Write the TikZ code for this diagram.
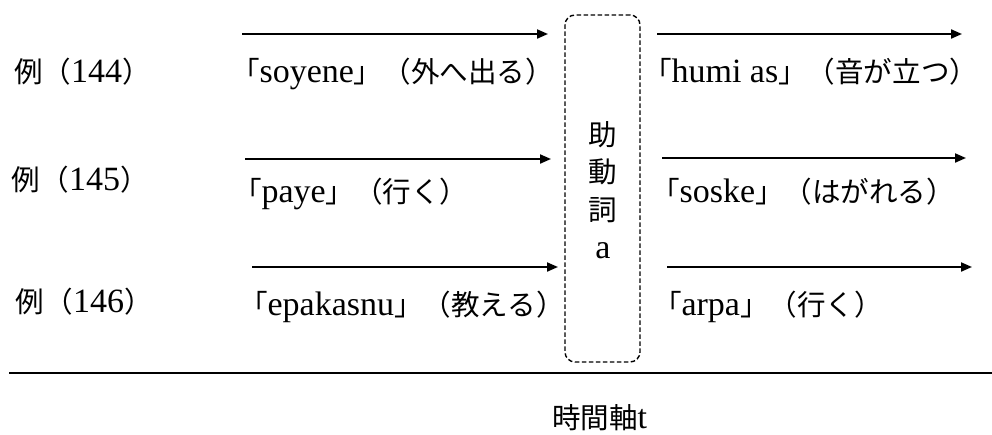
\documentclass[tikz,border=0pt]{standalone}
\usepackage{fontspec}
\setmainfont{Liberation Serif}
\newfontfamily\cjk{Noto Sans CJK JP}[Scale=0.84]
\usetikzlibrary{arrows.meta}
\newcommand\jp[1]{{\cjk #1}}
\tikzset{
  lbl/.style={anchor=base west, inner sep=0pt, outer sep=0pt, font=\fontsize{34}{40}\selectfont},
  vtxt/.style={anchor=base, inner sep=0pt, outer sep=0pt, font=\fontsize{34}{40}\selectfont},
  arr/.style={line width=2pt, -{Triangle[length=11pt,width=9pt]}},
  dashbox/.style={draw, line width=1.4pt, dash pattern=on 4.5pt off 2.5pt, rounded corners=10pt,
    minimum width=75pt, minimum height=347pt, inner sep=0pt},
  axis/.style={line width=2.4pt}
}
\begin{document}
\begin{tikzpicture}[x=1pt,y=-1pt]
\useasboundingbox (0,0) rectangle (992,434);
% dashed box
\node[dashbox] (aux) at (602.5,188.5) {};
\node[vtxt] (v1) at (603,145) {\jp{助}};
\node[vtxt] (v2) at (603,182) {\jp{動}};
\node[vtxt] (v3) at (603,220) {\jp{詞}};
\node[vtxt] (v4) at (603,258) {a};
% row labels
\node[lbl] (ex144) at (14,82) {\jp{例（}144\jp{）}};
\node[lbl] (ex145) at (12,190) {\jp{例（}145\jp{）}};
\node[lbl] (ex146) at (16,312) {\jp{例（}146\jp{）}};
% left labels
\node[lbl] (l144) at (231,82) {\jp{「}soyene\jp{」（外へ出る）}};
\node[lbl] (l145) at (233,202) {\jp{「}paye\jp{」（行く）}};
\node[lbl] (l146) at (239,315) {\jp{「}epakasnu\jp{」（教える）}};
% right labels
\node[lbl] (r144) at (643,82) {\jp{「}humi as\jp{」（音が立つ）}};
\node[lbl] (r145) at (651,202) {\jp{「}soske\jp{」（はがれる）}};
\node[lbl] (r146) at (653,315) {\jp{「}arpa\jp{」（行く）}};
% arrows
\coordinate (a1s) at (242,34); \coordinate (a1e) at (548,34);
\coordinate (b1s) at (657,34); \coordinate (b1e) at (962,34);
\coordinate (a2s) at (245,159); \coordinate (a2e) at (551,159);
\coordinate (b2s) at (662,158); \coordinate (b2e) at (966,158);
\coordinate (a3s) at (252,267); \coordinate (a3e) at (558,267);
\coordinate (b3s) at (667,267); \coordinate (b3e) at (972,267);
\draw[arr] (a1s) -- (a1e);
\draw[arr] (b1s) -- (b1e);
\draw[arr] (a2s) -- (a2e);
\draw[arr] (b2s) -- (b2e);
\draw[arr] (a3s) -- (a3e);
\draw[arr] (b3s) -- (b3e);
% time axis
\coordinate (t0) at (9,373); \coordinate (t1) at (992,373);
\draw[axis] (t0) -- (t1);
\node[lbl] (taxis) at (552,428) {\jp{時間軸}t};
\end{tikzpicture}
\end{document}
